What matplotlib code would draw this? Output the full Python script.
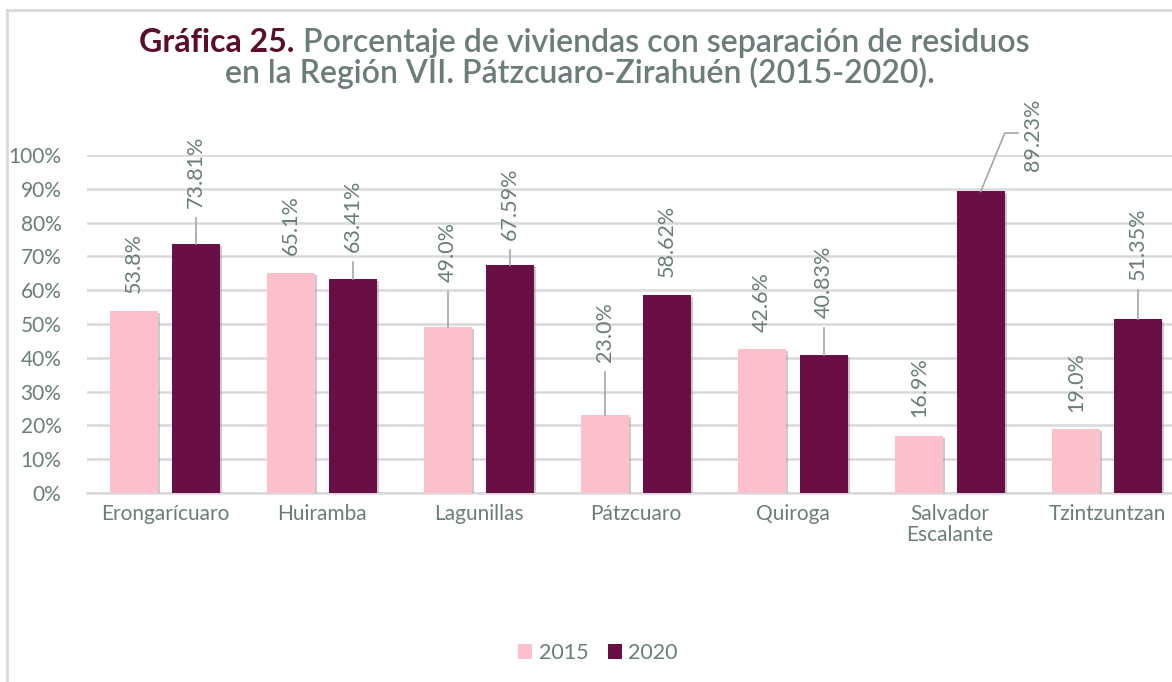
import matplotlib
matplotlib.use("Agg")
import matplotlib.pyplot as plt
import matplotlib.patheffects as pe
from matplotlib.patches import Patch
from matplotlib.lines import Line2D
import numpy as np

# data
municipios = ["Erongarícuaro", "Huiramba", "Lagunillas", "Pátzcuaro",
              "Quiroga", "Salvador\nEscalante", "Tzintzuntzan"]
v2015 = [53.8, 65.1, 49.0, 23.0, 42.6, 16.9, 19.0]
v2020 = [73.81, 63.41, 67.59, 58.62, 40.83, 89.23, 51.35]
lbl2015 = ["53.8%", "65.1%", "49.0%", "23.0%", "42.6%", "16.9%", "19.0%"]
lbl2020 = ["73.81%", "63.41%", "67.59%", "58.62%", "40.83%", "89.23%", "51.35%"]
series = ["2015", "2020"]

# label placement (gap above bar top, in % units)
gap2015 = [5.4, 5.3, 13.4, 15.8, 5.0, 5.6, 5.0]
gap2020 = [10.5, 7.9, 7.3, 5.3, 11.0, None, 11.7]

c15 = "#fcc0cc"
c20 = "#6a0f45"
txt = "#6b7d7b"
grid_c = "#d9d9d9"
lead_c = "#a6a6a6"

plt.rcParams['font.family'] = ['Lato', 'DejaVu Sans']

fig = plt.figure(figsize=(11.72, 6.82), dpi=100)
ax = fig.add_axes([86.5 / 1172, 189 / 682, 1099 / 1172, 338 / 682])

x = np.arange(len(municipios))
w = 0.306
off = 0.196
shadow = [pe.SimplePatchShadow(offset=(1.5, -1.5), shadow_rgbFace="#999999", alpha=0.5), pe.Normal()]
b1 = ax.bar(x - off, v2015, w, color=c15, zorder=3, path_effects=shadow)
b2 = ax.bar(x + off, v2020, w, color=c20, zorder=3, path_effects=shadow)

ax.set_xlim(-0.5, len(municipios) - 0.5)
ax.set_ylim(0, 100)
ax.set_yticks(np.arange(0, 101, 10))
ax.set_yticklabels([f"{t}%" for t in range(0, 101, 10)])
ax.set_xticks(x)
ax.set_xticklabels(municipios, linespacing=1.05)
ax.tick_params(axis='both', length=0, labelsize=15, colors=txt)
ax.tick_params(axis='y', pad=18)
ax.tick_params(axis='x', pad=8)
ax.grid(axis='y', color=grid_c, linewidth=1.8, zorder=0)
for s in ["top", "right", "left"]:
    ax.spines[s].set_visible(False)
ax.spines["bottom"].set_color(grid_c)
ax.spines["bottom"].set_linewidth(1.8)


def put_label(xc, val, gap, text):
    top = val + gap
    ax.text(xc, top, text, rotation=90, ha='center', va='bottom',
            fontsize=15.5, color=txt, clip_on=False, zorder=5)
    if gap > 6.5:
        ax.plot([xc, xc], [val, top - 3], color=lead_c, lw=1.2, zorder=4,
                clip_on=False)


for i in range(len(municipios)):
    put_label(x[i] - off, v2015[i], gap2015[i], lbl2015[i])
    if gap2020[i] is not None:
        put_label(x[i] + off, v2020[i], gap2020[i], lbl2020[i])
    else:
        xc = x[i] + off
        ax.text(xc + 0.33, 106, lbl2020[i], rotation=90, ha='center',
                va='center', fontsize=15.5, color=txt, clip_on=False, zorder=5)
        ax.plot([xc, xc + 0.153, xc + 0.237], [v2020[i], 106.5, 106.5],
                color=lead_c, lw=1.2, clip_on=False, zorder=4)

# title
fig.text(294 / 1172, 1 - 43 / 682, "Gráfica 25.", ha='right', va='center',
         fontsize=23, fontweight='bold', color="#5a0d2c")
fig.text(303 / 1172, 1 - 43 / 682,
         "Porcentaje de viviendas con separación de residuos",
         ha='left', va='center', fontsize=23, fontweight='semibold', color=txt)
fig.text(580 / 1172, 1 - 73 / 682,
         "en la Región VII. Pátzcuaro-Zirahuén (2015-2020).",
         ha='center', va='center', fontsize=23, fontweight='semibold', color=txt)

# legend
handles = [Patch(facecolor=c15), Patch(facecolor=c20)]
fig.legend(handles, series, loc='center', bbox_to_anchor=(598 / 1172, 1 - 653 / 682),
           ncol=2, frameon=False, fontsize=15.5, labelcolor=txt,
           handlelength=0.65, handleheight=0.65, handletextpad=0.3,
           columnspacing=0.9)

# frame
fig.add_artist(Line2D([6.5 / 1172, 6.5 / 1172], [0, 1 - 10 / 682],
                      color="#d9d9d9", lw=2, transform=fig.transFigure))
fig.add_artist(Line2D([6.5 / 1172, 1], [1 - 10 / 682, 1 - 10 / 682],
                      color="#d9d9d9", lw=2, transform=fig.transFigure))

fig.savefig("out.png", dpi=100, facecolor="white")
